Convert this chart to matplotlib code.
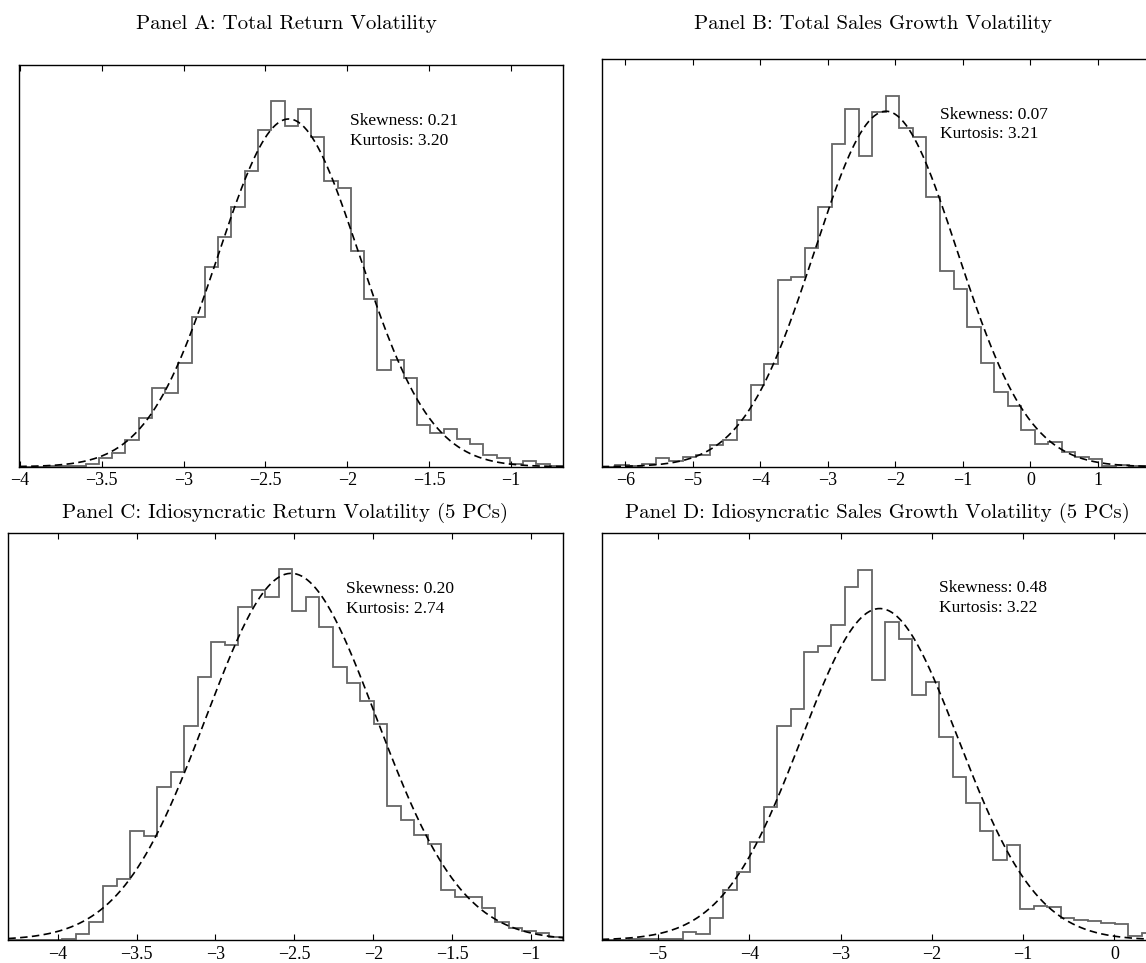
import numpy as np
import matplotlib.pyplot as plt

# --- data ------------------------------------------------------------------
titles = ["Panel A: Total Return Volatility",
          "Panel B: Total Sales Growth Volatility",
          "Panel C: Idiosyncratic Return Volatility (5 PCs)",
          "Panel D: Idiosyncratic Sales Growth Volatility (5 PCs)"]

# histogram range (first bin left edge, last bin right edge), 41 bins each
a_range = (-4.004, -0.681)
b_range = (-6.352, 1.87)
c_range = (-4.313, -0.797)
d_range = (-5.617, 0.451)

# bin heights (arbitrary units, no y axis in the original)
a_counts = [0, 0, 1, 1, 3, 9, 27, 42, 79, 145, 236, 221, 310, 449, 599,
            689, 781, 889, 1011, 1097, 1022, 1075, 989, 857, 837, 649, 503,
            290, 320, 267, 124, 102, 112, 82, 67, 34, 25, 9, 17, 9, 2]
b_counts = [0, 4, 2, 8, 25, 18, 28, 34, 65, 80, 140, 245, 307, 559, 570,
            657, 779, 969, 1074, 932, 1065, 1112, 1017, 990, 809, 586, 532,
            420, 310, 225, 182, 110, 68, 73, 45, 30, 22, 2, 4, 2, 1]
c_counts = [0, 0, 0, 1, 3, 17, 55, 163, 183, 327, 313, 460, 503, 643, 790,
            895, 886, 1000, 1049, 1028, 1112, 987, 1028, 938, 818, 772, 717,
            648, 402, 360, 315, 289, 150, 130, 130, 95, 55, 35, 28, 22, 8]
d_counts = [0, 1, 2, 4, 2, 4, 23, 19, 65, 150, 203, 294, 399, 641, 693,
            864, 882, 945, 1059, 1111, 779, 955, 903, 736, 774, 608, 488,
            412, 327, 241, 285, 93, 102, 98, 66, 61, 57, 52, 47, 13, 20]

# fitted normal (mean, sd)
a_fit = (-2.357, 0.433)
b_fit = (-2.14, 1.058)
c_fit = (-2.52, 0.54)
d_fit = (-2.57, 0.86)

a_stats = ("0.21", "3.20")
b_stats = ("0.07", "3.21")
c_stats = ("0.20", "2.74")
d_stats = ("0.48", "3.22")

a_ticks = [-4, -3.5, -3, -2.5, -2, -1.5, -1]
a_labels = ["\u22124", "\u22123.5", "\u22123", "\u22122.5", "\u22122", "\u22121.5", "\u22121"]
b_ticks = [-6, -5, -4, -3, -2, -1, 0, 1]
b_labels = ["\u22126", "\u22125", "\u22124", "\u22123", "\u22122", "\u22121", "0", "1"]
c_ticks = a_ticks
c_labels = a_labels
d_ticks = [-5, -4, -3, -2, -1, 0]
d_labels = ["\u22125", "\u22124", "\u22123", "\u22122", "\u22121", "0"]

# top of y range in the same units as the counts
a_ytop = 1207
b_ytop = 1223
c_ytop = 1222
d_ytop = 1222

# text position (x in data units, y in count units)
a_txt = (-1.98, 1037)
b_txt = (-1.34, 1055)
c_txt = (-2.17, 1052)
d_txt = (-1.92, 1055)

# --- layout ----------------------------------------------------------------
W, H = 1146, 963
fig = plt.figure(figsize=(W / 100, H / 100), dpi=100)

def rect(l, r, t, b):
    return [l / W, 1 - b / H, (r - l) / W, (b - t) / H]

boxes = [rect(19.3, 563, 64.7, 466.7), rect(601.7, 1156.5, 59, 466.7),
         rect(8.3, 563, 532.5, 940), rect(601.7, 1155.5, 532.5, 940)]
title_pos = [(286, 24), (873, 24), (285, 513), (877, 513)]

panels = [(a_range, a_counts, a_fit, a_stats, a_ticks, a_labels, a_ytop, a_txt),
          (b_range, b_counts, b_fit, b_stats, b_ticks, b_labels, b_ytop, b_txt),
          (c_range, c_counts, c_fit, c_stats, c_ticks, c_labels, c_ytop, c_txt),
          (d_range, d_counts, d_fit, d_stats, d_ticks, d_labels, d_ytop, d_txt)]

serif = "Liberation Serif"

for i, (rng, counts, fit, stats, ticks, labels, ytop, txt) in enumerate(panels):
    ax = fig.add_axes(boxes[i])
    counts = np.array(counts, dtype=float)
    edges = np.linspace(rng[0], rng[1], len(counts) + 1)
    width = edges[1] - edges[0]

    ax.stairs(counts, edges, color="#666666", lw=1.3)

    mu, sd = fit
    xs = np.linspace(rng[0], rng[1], 400)
    ys = counts.sum() * width / (sd * np.sqrt(2 * np.pi)) * np.exp(-0.5 * ((xs - mu) / sd) ** 2)
    ax.plot(xs, ys, color="black", lw=1.2, dashes=(4.5, 2.6))

    ax.set_xlim(rng)
    ax.set_ylim(0, ytop)
    ax.set_yticks([])
    ax.set_xticks(ticks)
    ax.set_xticklabels(labels, fontfamily=serif, fontsize=13)
    ax.tick_params(axis="x", direction="in", top=True, length=4, width=0.8, pad=4)
    for s in ax.spines.values():
        s.set_linewidth(1.0)

    ax.text(txt[0], txt[1], "Skewness: " + stats[0], fontfamily=serif,
            fontsize=12.5, va="center", ha="left")
    ax.text(txt[0], txt[1] - 58, "Kurtosis: " + stats[1], fontfamily=serif,
            fontsize=12.5, va="center", ha="left")

    tx, ty = title_pos[i]
    fig.text(tx / W, 1 - ty / H, titles[i], fontfamily="cmr10", fontsize=15,
             ha="center", va="center")

fig.savefig("out.png", dpi=100)
